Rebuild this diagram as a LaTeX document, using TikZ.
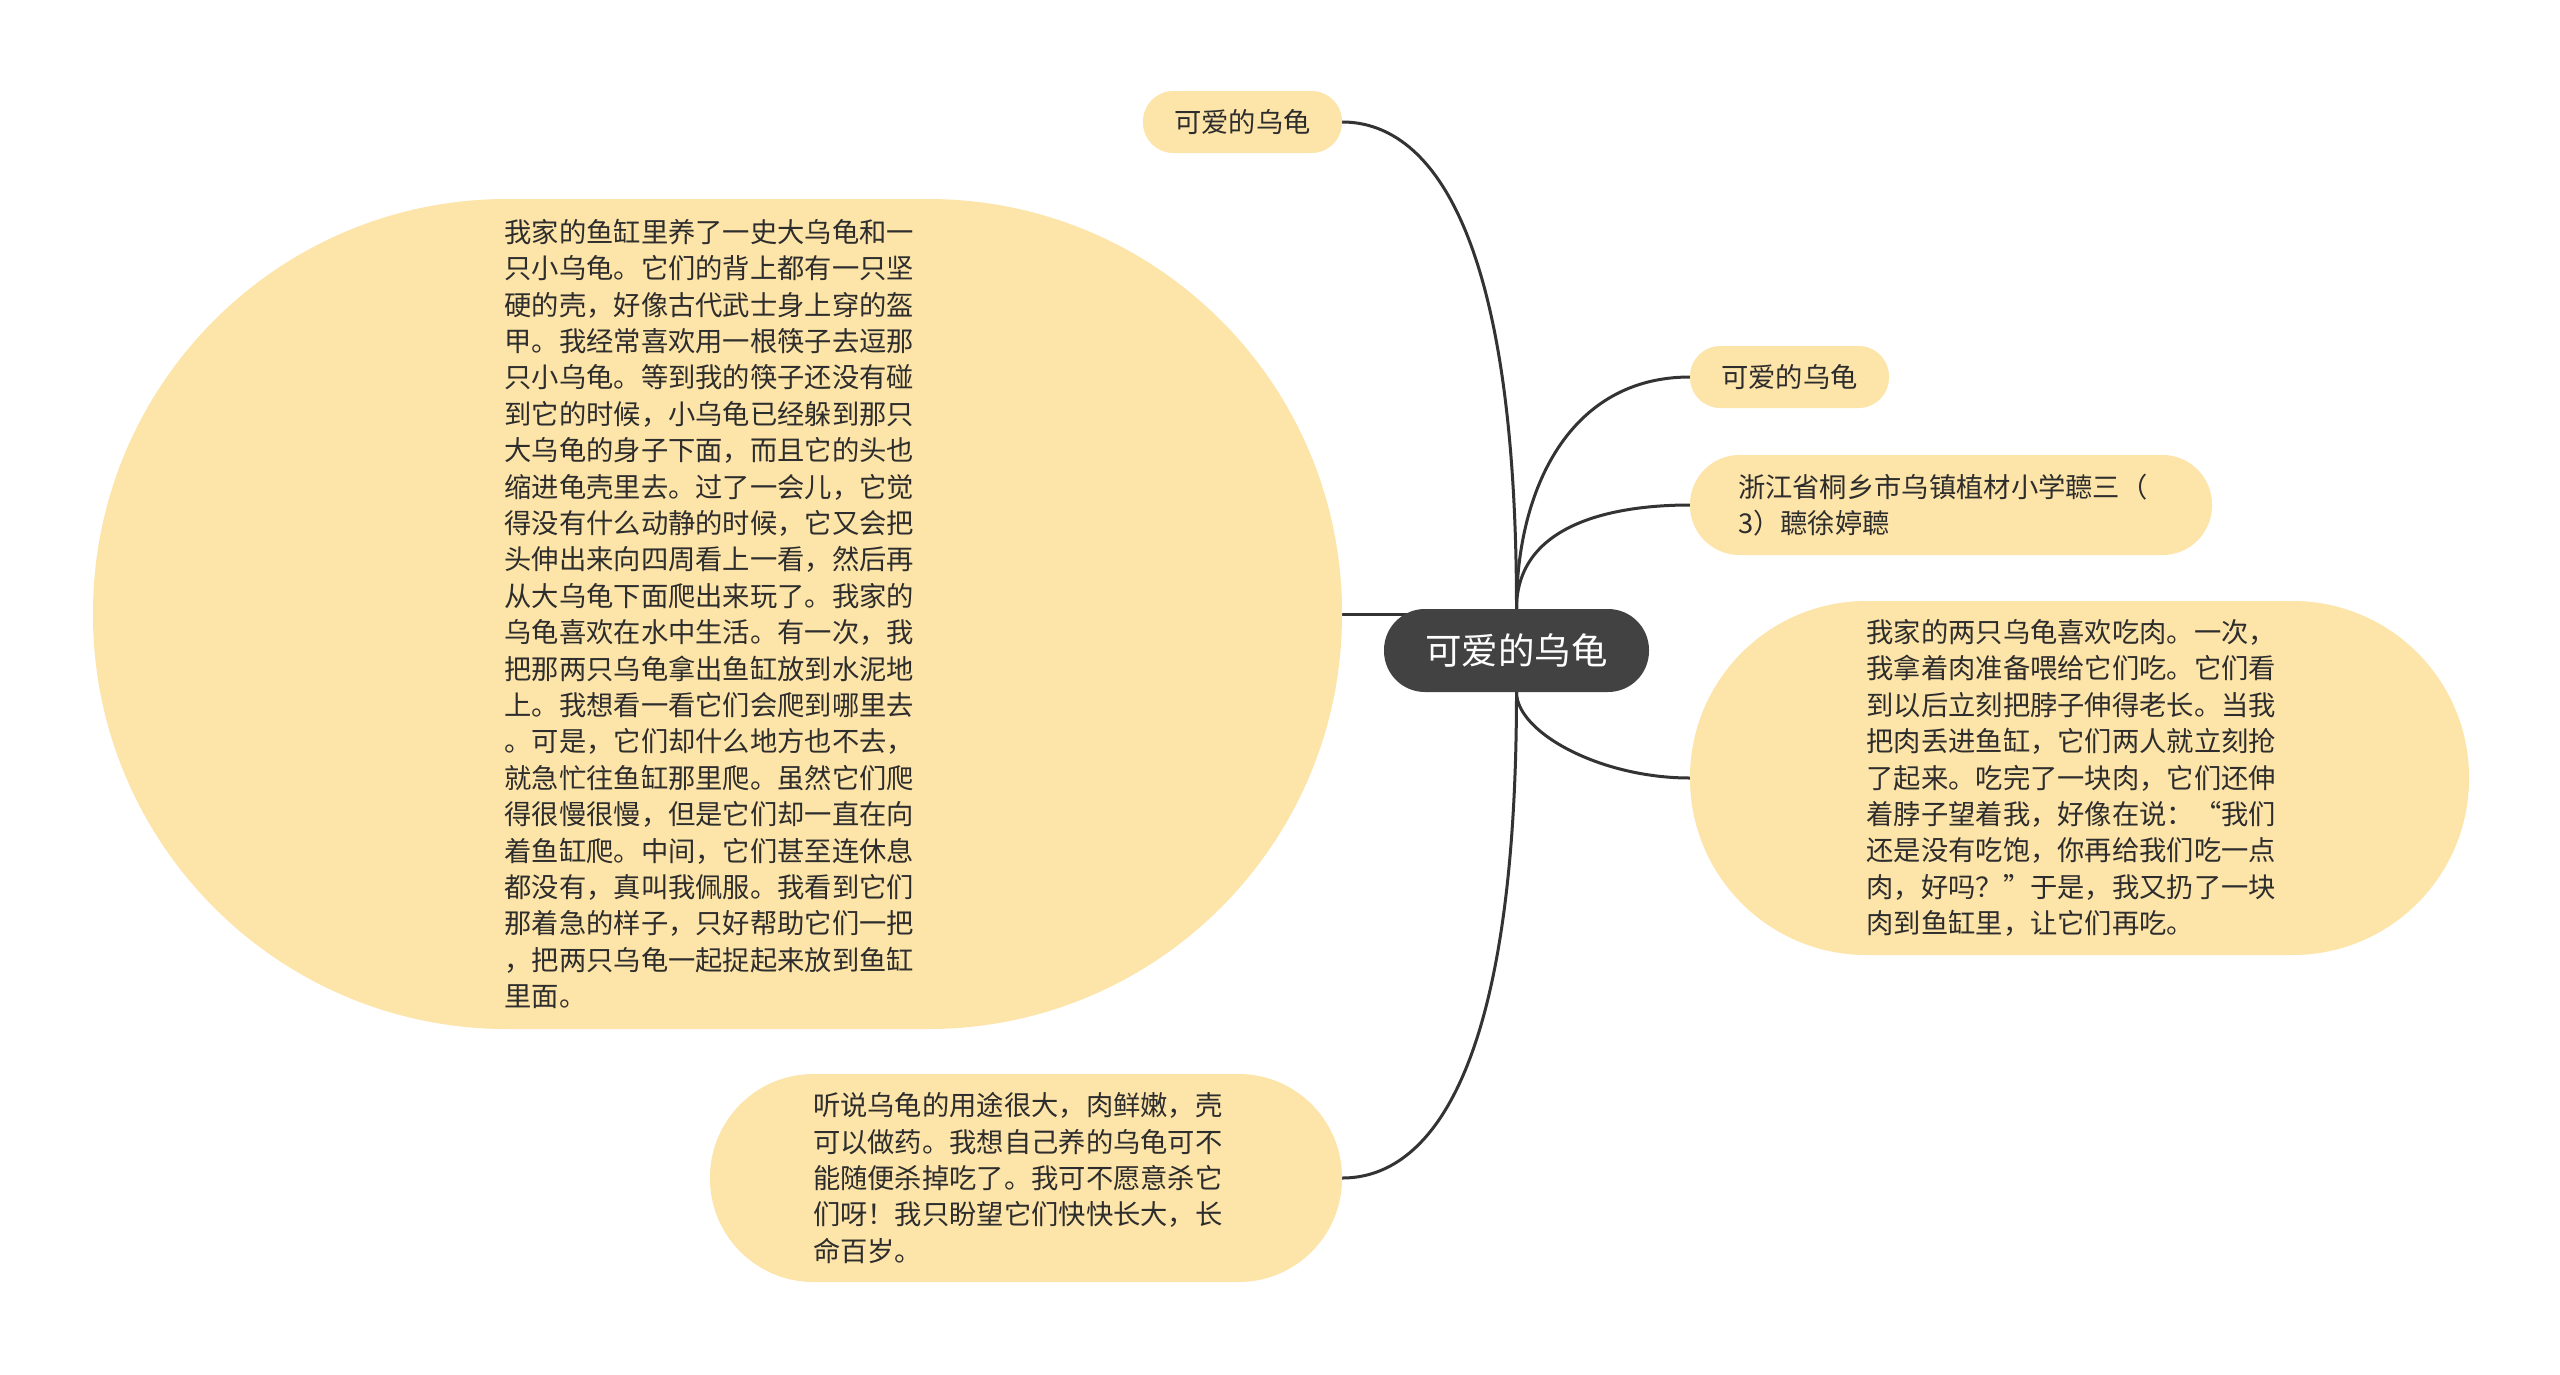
\documentclass[tikz,border=0pt]{standalone}
\usepackage{fontspec}
\setmainfont{Noto Sans CJK SC}
\usetikzlibrary{backgrounds}
\definecolor{leaf}{RGB}{253,228,168}
\definecolor{core}{RGB}{66,66,66}
\definecolor{ink}{RGB}{45,45,45}
\definecolor{wirec}{RGB}{51,51,51}
\begin{document}
\begin{tikzpicture}[x=1pt,y=-1pt,
  leafbox/.style={fill=leaf, text=ink, inner sep=0pt, align=left,
    font=\fontsize{27.3}{36.4}\selectfont},
  parabox/.style={leafbox, text width=426pt},
  corebox/.style={fill=core, text=white, inner sep=0pt,
    font=\fontsize{36.5}{44}\selectfont},
  wire/.style={draw=wirec, line width=3pt}]
\useasboundingbox (0,0) rectangle (2560,1374);

% central node
\node[corebox, minimum width=265pt, minimum height=83pt, rounded corners=41pt] (c) at (1516.5,650.5) {可爱的乌龟};

% children
\node[leafbox, minimum width=199pt, minimum height=62pt, rounded corners=30.5pt] (top) at (1242.5,122) {可爱的乌龟};

\node[parabox, minimum width=1249pt, minimum height=830pt, rounded corners=414pt] (L) at (717.5,614) {我家的鱼缸里养了一史大乌龟和一\\
只小乌龟。它们的背上都有一只坚\\
硬的壳，好像古代武士身上穿的盔\\
甲。我经常喜欢用一根筷子去逗那\\
只小乌龟。等到我的筷子还没有碰\\
到它的时候，小乌龟已经躲到那只\\
大乌龟的身子下面，而且它的头也\\
缩进龟壳里去。过了一会儿，它觉\\
得没有什么动静的时候，它又会把\\
头伸出来向四周看上一看，然后再\\
从大乌龟下面爬出来玩了。我家的\\
乌龟喜欢在水中生活。有一次，我\\
把那两只乌龟拿出鱼缸放到水泥地\\
上。我想看一看它们会爬到哪里去\\
。可是，它们却什么地方也不去，\\
就急忙往鱼缸那里爬。虽然它们爬\\
得很慢很慢，但是它们却一直在向\\
着鱼缸爬。中间，它们甚至连休息\\
都没有，真叫我佩服。我看到它们\\
那着急的样子，只好帮助它们一把\\
，把两只乌龟一起捉起来放到鱼缸\\
里面。};

\node[parabox, minimum width=632pt, minimum height=208pt, rounded corners=103.5pt] (B) at (1026,1178) {听说乌龟的用途很大，肉鲜嫩，壳\\
可以做药。我想自己养的乌龟可不\\
能随便杀掉吃了。我可不愿意杀它\\
们呀！我只盼望它们快快长大，长\\
命百岁。};

\node[leafbox, minimum width=199pt, minimum height=62pt, rounded corners=30.5pt] (r1) at (1789.5,377) {可爱的乌龟};

\node[parabox, minimum width=522pt, minimum height=100pt, rounded corners=49.5pt] (r2) at (1951,505) {浙江省桐乡市乌镇植材小学聼三（\\
3）聼徐婷聼};

\node[parabox, minimum width=779pt, minimum height=354pt, rounded corners=176.5pt] (r3) at (2079.5,778) {我家的两只乌龟喜欢吃肉。一次，\\
我拿着肉准备喂给它们吃。它们看\\
到以后立刻把脖子伸得老长。当我\\
把肉丢进鱼缸，它们两人就立刻抢\\
了起来。吃完了一块肉，它们还伸\\
着脖子望着我，好像在说：“我们\\
还是没有吃饱，你再给我们吃一点\\
肉，好吗？”于是，我又扔了一块\\
肉到鱼缸里，让它们再吃。};

% connectors
\begin{scope}[on background layer]
\fill[white] (0,0) rectangle (2560,1374);
\draw[wire] (top.east) .. controls +(60,0) and +(0,-436) .. (c.north);
\draw[wire] (c.north) .. controls +(0,-120) and +(-120,0) .. (r1.west);
\draw[wire] (c.north) .. controls +(0,-88) and +(-70,0) .. (r2.west);
\draw[wire] (c.south) .. controls +(0,40) and +(-90,0) .. (r3.west);
\draw[wire] (c.south) .. controls +(0,436) and +(60,0) .. (B.east);
\draw[wire] (L.east) -- (L.east -| c.center);
\end{scope}
\end{tikzpicture}
\end{document}
